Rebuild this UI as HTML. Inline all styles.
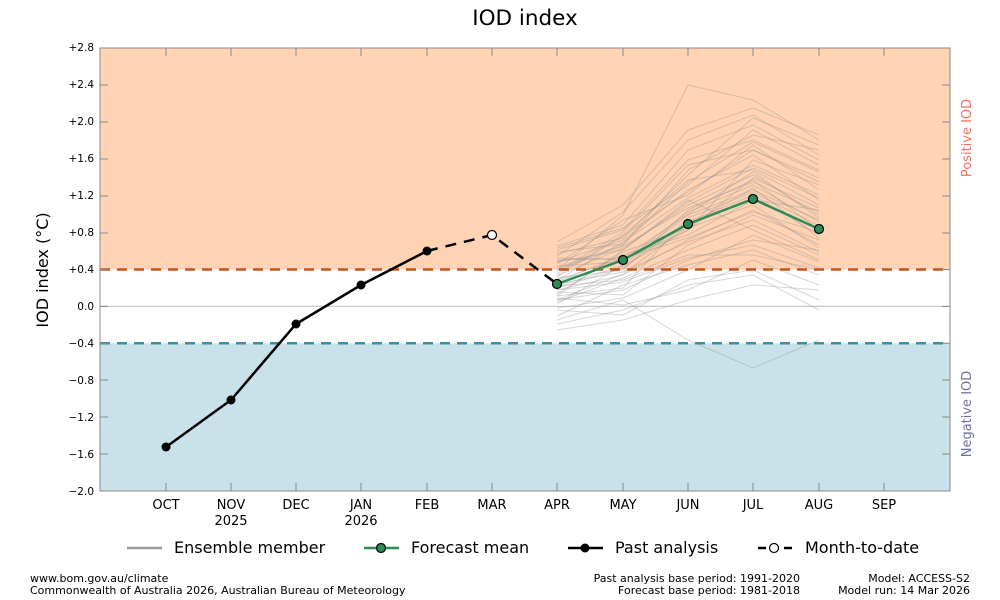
<!DOCTYPE html>
<html><head><meta charset="utf-8"><style>
body{margin:0;background:#fff;}
svg{display:block;font-family:"DejaVu Sans","Liberation Sans",sans-serif;}
</style></head><body>
<svg width="1000" height="600" viewBox="0 0 1000 600">
<rect width="1000" height="600" fill="#fff"/>
<text x="525" y="25" font-size="21.5" text-anchor="middle">IOD index</text>
<rect x="100" y="48" width="850" height="221.5" fill="#ffd3b4"/>
<rect x="100" y="343.3" width="850" height="147.7" fill="#c9e1e8"/>
<line x1="100" y1="306.4" x2="950" y2="306.4" stroke="#c8c8c8" stroke-width="1.2"/>
<g fill="none" stroke="rgba(140,140,140,0.35)" stroke-width="1">
<polyline points="557,284 623,260 688,224 753,199 819,229"/>
<polyline points="557,250 623,230 688,160 753,140 819,170"/>
<polyline points="557,300 623,290 688,260 753,240 819,250"/>
<polyline points="557,270 623,215 688,85 753,100 819,140"/>
<polyline points="557,320 623,300 688,340 753,368 819,340"/>
<polyline points="557,262 623,240 688,190 753,155 819,200"/>
<polyline points="557,290 623,275 688,240 753,210 819,245"/>
<polyline points="557,310 623,315 688,280 753,270 819,300"/>
<polyline points="557,242 623,205 688,130 753,108 819,135"/>
<polyline points="557,278 623,270 688,210 753,180 819,230"/>
<polyline points="557,296 623,250 688,200 753,230 819,260"/>
<polyline points="557,258 623,260 688,230 753,160 819,185"/>
<polyline points="557,330 623,320 688,300 753,285 819,290"/>
<polyline points="557,268 623,245 688,170 753,135 819,150"/>
<polyline points="557,286 623,280 688,255 753,255 819,270"/>
<polyline points="557,304 623,265 688,215 753,190 819,220"/>
<polyline points="557,274 623,235 688,180 753,170 819,205"/>
<polyline points="557,246 623,225 688,150 753,125 819,160"/>
<polyline points="557,292 623,295 688,245 753,215 819,240"/>
<polyline points="557,282 623,255 688,235 753,200 819,210"/>
<polyline points="557,316 623,285 688,265 753,250 819,275"/>
<polyline points="557,264 623,220 688,195 753,145 819,190"/>
<polyline points="557,298 623,305 688,290 753,260 819,285"/>
<polyline points="557,276 623,248 688,205 753,175 819,215"/>
<polyline points="557,288 623,268 688,222 753,195 819,235"/>
<polyline points="557,254 623,238 688,175 753,118 819,145"/>
<polyline points="557,302 623,278 688,250 753,225 819,255"/>
<polyline points="557,266 623,262 688,212 753,185 819,222"/>
<polyline points="557,294 623,252 688,228 753,205 819,248"/>
<polyline points="557,280 623,242 688,198 753,165 819,195"/>
<polyline points="557,308 623,298 688,270 753,235 819,262"/>
<polyline points="557,272 623,232 688,165 753,150 819,178"/>
<polyline points="557,260 623,258 688,238 753,212 819,232"/>
<polyline points="557,324 623,310 688,285 753,275 819,310"/>
<polyline points="557,248 623,228 688,185 753,130 819,165"/>
<polyline points="557,284 623,272 688,242 753,220 819,252"/>
<polyline points="557,296 623,288 688,218 753,192 819,226"/>
<polyline points="557,256 623,212 688,140 753,115 819,155"/>
<polyline points="557,290 623,282 688,258 753,245 819,268"/>
<polyline points="557,270 623,246 688,208 753,182 819,212"/>
<polyline points="557,276 623,236 688,192 753,150 819,182"/>
<polyline points="557,286 623,266 688,230 753,178 819,208"/>
<polyline points="557,262 623,250 688,202 753,168 819,198"/>
<polyline points="557,300 623,274 688,226 753,188 819,238"/>
<polyline points="557,252 623,244 688,182 753,142 819,172"/>
<polyline points="557,280 623,258 688,214 753,172 819,218"/>
</g>
<line x1="100" y1="269.5" x2="950" y2="269.5" stroke="#c0561a" stroke-width="2.5" stroke-dasharray="10,7"/>
<line x1="100" y1="343.3" x2="950" y2="343.3" stroke="#3a8ea5" stroke-width="2.5" stroke-dasharray="10,7"/>
<polyline points="166,447 231,400 296,324 361,285 427,251" fill="none" stroke="#000" stroke-width="2.5"/>
<polyline points="427,251 492,235 557,284" fill="none" stroke="#000" stroke-width="2.5" stroke-dasharray="11,8"/>
<g fill="#000"><circle cx="166" cy="447" r="4.5"/><circle cx="231" cy="400" r="4.5"/><circle cx="296" cy="324" r="4.5"/><circle cx="361" cy="285" r="4.5"/><circle cx="427" cy="251" r="4.5"/></g>
<circle cx="492" cy="235" r="4.5" fill="#fff" stroke="#000" stroke-width="1.2"/>
<polyline points="557,284 623,260 688,224 753,199 819,229" fill="none" stroke="#2e8b57" stroke-width="2.5"/>
<g fill="#2e8b57" stroke="#000" stroke-width="1.2"><circle cx="557" cy="284" r="4.5"/><circle cx="623" cy="260" r="4.5"/><circle cx="688" cy="224" r="4.5"/><circle cx="753" cy="199" r="4.5"/><circle cx="819" cy="229" r="4.5"/></g>
<rect x="100" y="48" width="850" height="443" fill="none" stroke="#888" stroke-width="1"/>
<g stroke="#888" stroke-width="1">
<path d="M100,48h8M100,85h8M100,122h8M100,159h8M100,196h8M100,233h8M100,269.5h8M100,306.4h8M100,343.3h8M100,380h8M100,417h8M100,454h8M950,48h-8M950,85h-8M950,122h-8M950,159h-8M950,196h-8M950,233h-8M950,269.5h-8M950,306.4h-8M950,343.3h-8M950,380h-8M950,417h-8M950,454h-8"/>
<path d="M166,491v-8M231,491v-8M296,491v-8M361,491v-8M427,491v-8M492,491v-8M557,491v-8M623,491v-8M688,491v-8M753,491v-8M819,491v-8M884,491v-8M166,48v8M231,48v8M296,48v8M361,48v8M427,48v8M492,48v8M557,48v8M623,48v8M688,48v8M753,48v8M819,48v8M884,48v8"/>
</g>
<g font-size="10.5" text-anchor="end">
<text x="94" y="51">+2.8</text><text x="94" y="88">+2.4</text><text x="94" y="125">+2.0</text><text x="94" y="162">+1.6</text><text x="94" y="199">+1.2</text><text x="94" y="236">+0.8</text><text x="94" y="273">+0.4</text><text x="94" y="310">0.0</text><text x="94" y="347">−0.4</text><text x="94" y="384">−0.8</text><text x="94" y="421">−1.2</text><text x="94" y="458">−1.6</text><text x="94" y="495">−2.0</text>
</g>
<g font-size="13" text-anchor="middle">
<text x="166" y="509">OCT</text><text x="231" y="509">NOV</text><text x="231" y="525">2025</text><text x="296" y="509">DEC</text><text x="361" y="509">JAN</text><text x="361" y="525">2026</text><text x="427" y="509">FEB</text><text x="492" y="509">MAR</text><text x="557" y="509">APR</text><text x="623" y="509">MAY</text><text x="688" y="509">JUN</text><text x="753" y="509">JUL</text><text x="819" y="509">AUG</text><text x="884" y="509">SEP</text>
</g>
<text transform="translate(48,270) rotate(-90)" font-size="16" text-anchor="middle">IOD index (°C)</text>
<text transform="translate(971,138) rotate(-90)" font-size="13" fill="#f07060" text-anchor="middle">Positive IOD</text>
<text transform="translate(971,414) rotate(-90)" font-size="13" fill="#7070a0" text-anchor="middle">Negative IOD</text>
<line x1="127" y1="548" x2="162" y2="548" stroke="#999" stroke-width="2.5"/>
<text x="174" y="553" font-size="16">Ensemble member</text>
<line x1="364" y1="548" x2="399" y2="548" stroke="#2e8b57" stroke-width="2.5"/>
<circle cx="381" cy="548" r="4.5" fill="#2e8b57" stroke="#000" stroke-width="1.2"/>
<text x="411" y="553" font-size="16">Forecast mean</text>
<line x1="568" y1="548" x2="603" y2="548" stroke="#000" stroke-width="2.5"/>
<circle cx="585" cy="548" r="4.5" fill="#000"/>
<text x="615" y="553" font-size="16">Past analysis</text>
<line x1="758" y1="548" x2="793" y2="548" stroke="#000" stroke-width="2.5" stroke-dasharray="8,5"/>
<circle cx="774" cy="548" r="4.5" fill="#fff" stroke="#000" stroke-width="1.2"/>
<text x="805" y="553" font-size="16">Month-to-date</text>
<g font-size="11">
<text x="30" y="582">www.bom.gov.au/climate</text>
<text x="30" y="594">Commonwealth of Australia 2026, Australian Bureau of Meteorology</text>
<text x="800" y="582" text-anchor="end">Past analysis base period: 1991-2020</text>
<text x="800" y="594" text-anchor="end">Forecast base period: 1981-2018</text>
<text x="970" y="582" text-anchor="end">Model: ACCESS-S2</text>
<text x="970" y="594" text-anchor="end">Model run: 14 Mar 2026</text>
</g>
</svg>
</body></html>
